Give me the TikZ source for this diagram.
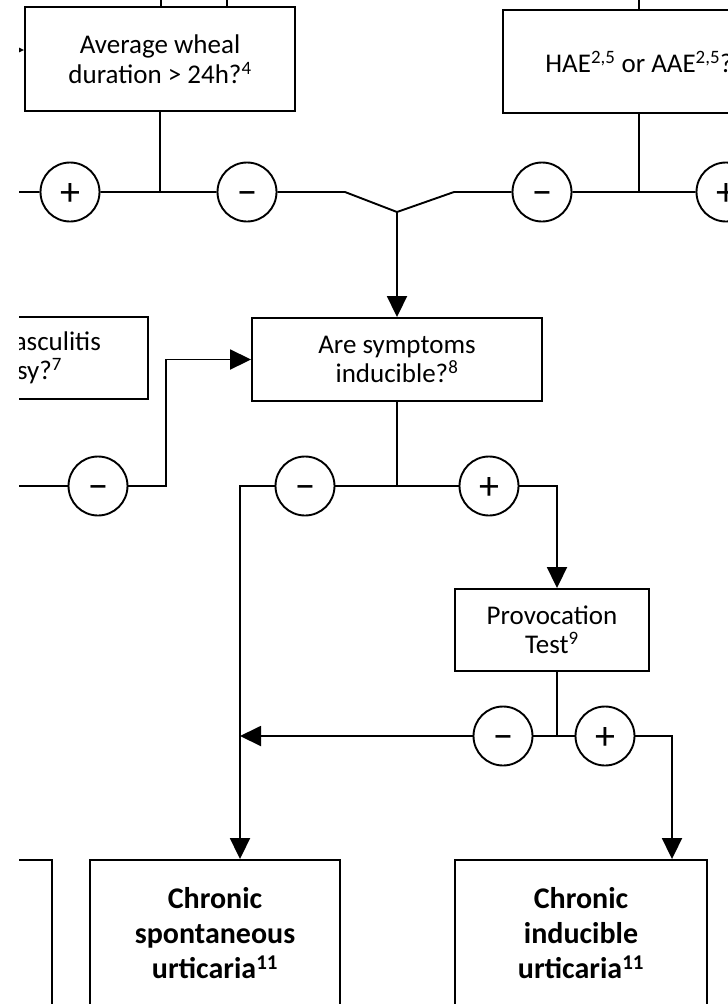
\documentclass[tikz,border=0pt]{standalone}
\usepackage{fontspec}
\setmainfont{Carlito}
\usetikzlibrary{arrows.meta,positioning,calc}

\begin{document}
\begin{tikzpicture}[x=1pt, y=-1pt,
    every node/.style={align=center, font=\fontsize{27}{29.5}\selectfont},
    boite/.style={draw, line width=1.9pt, inner sep=0pt},
    diag/.style={boite, font=\fontsize{30}{35}\selectfont\bfseries},
    signe/.style={draw, circle, line width=1.9pt, minimum size=59pt, inner sep=0pt, fill=white, text height=26pt, text depth=0pt, font=\fontsize{40}{40}\selectfont},
    trait/.style={line width=1.9pt},
    fleche/.style={trait, -{Triangle[length=21pt,width=20pt]}}]
        \useasboundingbox (0,0) rectangle (728,1005);
        \clip (19,0) rectangle (728,1003);

        % Blocs de décision
        \node[boite, minimum width=270pt, minimum height=104pt] (duree) at (160,59) {Average wheal\\duration > 24h?\textsuperscript{4}};
        \node[boite, minimum width=272pt, minimum height=103pt] (hae) at (639,61.5) {HAE\textsuperscript{2,5} or AAE\textsuperscript{2,5}?};
        \node[boite, minimum width=300pt, minimum height=82pt] (vascu) at (-2,358) {Urticarial vasculitis\\on biopsy?\textsuperscript{7}};
        \node[boite, minimum width=290pt, minimum height=83pt] (induc) at (397,359.5) {Are symptoms\\inducible?\textsuperscript{8}};
        \node[boite, minimum width=194pt, minimum height=82pt] (prov) at (552,630) {Provocation\\Test\textsuperscript{9}};

        % Diagnostics finaux
        \node[diag, minimum width=250pt, minimum height=146pt] (autre) at (-73,933) {};
        \node[diag, minimum width=250pt, minimum height=146pt] (csu) at (215,933) {Chronic\\spontaneous\\urticaria\textsuperscript{11}};
        \node[diag, minimum width=252pt, minimum height=146pt] (cindu) at (581,933) {Chronic\\inducible\\urticaria\textsuperscript{11}};

        % Réponses + / −
        \node[signe] (p1) at (70,192) {+};
        \node[signe] (m1) at (247,192) {−};
        \node[signe] (m2) at (542,192) {−};
        \node[signe] (p2) at (726,192) {+};
        \node[signe] (m3) at (98,486) {−};
        \node[signe] (m4) at (305,486) {−};
        \node[signe] (p4) at (489,486) {+};
        \node[signe] (m5) at (503,736) {−};
        \node[signe] (p5) at (605,736) {+};

        % Points de passage
        \coordinate (h1) at (161,-30);
        \coordinate (h2) at (227,-30);
        \coordinate (h3) at (639,-30);
        \coordinate (h4) at (-30,50);
        \coordinate (g1) at (-30,192);
        \coordinate (d1) at (790,192);
        \coordinate (kg) at (345,192);
        \coordinate (v) at (397,212);
        \coordinate (kd) at (454,192);
        \coordinate (g2) at (-30,486);
        \coordinate (c3) at (166,486);
        \coordinate (c4) at (240,486);
        \coordinate (c7) at (672,736);

        % Liaisons du haut
        \draw[trait] (h1) -- (h1 |- duree.north);
        \draw[trait] (h2) -- (h2 |- duree.north);
        \draw[trait] (h3) -- (h3 |- hae.north);
        \draw[fleche] (h4) -- (h4 -| duree.west);
        \draw[trait] (g1) -- (p1) -- (m1) -- (kg) -- (v) -- (kd) -- (m2) -- (p2) -- (d1);
        \draw[trait] (duree) -- (duree |- p1);
        \draw[trait] (hae) -- (hae |- p2);
        \draw[fleche] (v) -- (induc);

        % Symptômes inductibles ?
        \draw[fleche] (g2) -- (m3) -- (c3) |- (induc.west);
        \draw[trait] (induc) -- (induc |- m4);
        \draw[trait] (m4) -- (p4);
        \draw[fleche] (m4) -- (c4) -- (c4 |- csu.north);
        \draw[fleche] (p4) -| ([xshift=5pt]prov.north);

        % Test de provocation
        \draw[trait] ([xshift=5pt]prov.south) -- ([xshift=5pt]prov.south |- m5);
        \draw[trait] (m5) -- (p5);
        \draw[fleche] (m5) -- (m5 -| c4);
        \draw[fleche] (p5) -- (c7) -- (c7 |- cindu.north);
    \end{tikzpicture}
\end{document}
